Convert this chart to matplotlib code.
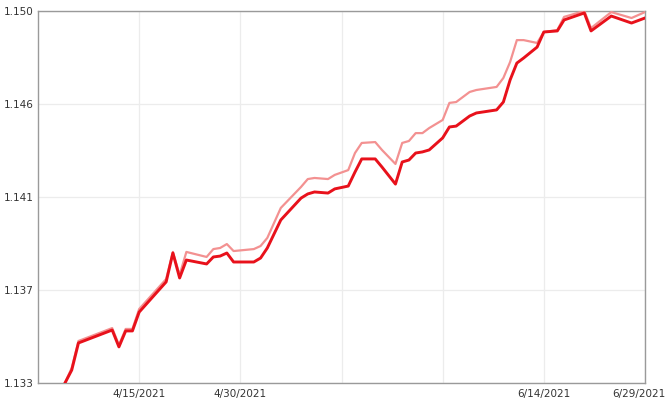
import matplotlib
matplotlib.use("Agg")
import matplotlib.pyplot as plt
import matplotlib.dates as mdates
from matplotlib.transforms import ScaledTranslation
import pandas as pd

# dates of the line vertices (both series share them)
dates = ["2021-04-04", "2021-04-05", "2021-04-06", "2021-04-11", "2021-04-12",
         "2021-04-13", "2021-04-14", "2021-04-15", "2021-04-19", "2021-04-20",
         "2021-04-21", "2021-04-22", "2021-04-25", "2021-04-26", "2021-04-27",
         "2021-04-28", "2021-04-29", "2021-05-02", "2021-05-03", "2021-05-04",
         "2021-05-06", "2021-05-09", "2021-05-10", "2021-05-11", "2021-05-13",
         "2021-05-14", "2021-05-16", "2021-05-17", "2021-05-18", "2021-05-20",
         "2021-05-21", "2021-05-23", "2021-05-24", "2021-05-25", "2021-05-26",
         "2021-05-27", "2021-05-28", "2021-05-30", "2021-05-31", "2021-06-01",
         "2021-06-03", "2021-06-04", "2021-06-07", "2021-06-08", "2021-06-09",
         "2021-06-10", "2021-06-11", "2021-06-13", "2021-06-14", "2021-06-16",
         "2021-06-17", "2021-06-20", "2021-06-21", "2021-06-24", "2021-06-27",
         "2021-06-29"]

dark = [1.13300, 1.13359, 1.13483, 1.13542, 1.13465, 1.13538, 1.13538, 1.13624,
        1.13762, 1.13894, 1.13780, 1.13862, 1.13844, 1.13876, 1.13880, 1.13894,
        1.13853, 1.13853, 1.13871, 1.13917, 1.14045, 1.14145, 1.14164, 1.14173,
        1.14168, 1.14187, 1.14200, 1.14264, 1.14324, 1.14324, 1.14287, 1.14209,
        1.14310, 1.14319, 1.14351, 1.14356, 1.14365, 1.14420, 1.14470, 1.14474,
        1.14520, 1.14534, 1.14548, 1.14584, 1.14685, 1.14762, 1.14785, 1.14835,
        1.14904, 1.14909, 1.14959, 1.14991, 1.14909, 1.14977, 1.14945, 1.14968]

light = [1.13300, 1.13369, 1.13492, 1.13551, 1.13474, 1.13547, 1.13547, 1.13638,
         1.13775, 1.13899, 1.13794, 1.13899, 1.13876, 1.13912, 1.13917, 1.13935,
         1.13903, 1.13912, 1.13926, 1.13963, 1.14100, 1.14196, 1.14232, 1.14237,
         1.14232, 1.14251, 1.14273, 1.14351, 1.14397, 1.14401, 1.14365, 1.14301,
         1.14397, 1.14406, 1.14442, 1.14442, 1.14465, 1.14502, 1.14580, 1.14584,
         1.14630, 1.14639, 1.14653, 1.14694, 1.14767, 1.14867, 1.14867, 1.14854,
         1.14904, 1.14913, 1.14973, 1.15000, 1.14922, 1.14995, 1.14968, 1.14995]

x_ticks = ["2021-04-15", "2021-04-30", "2021-05-15", "2021-05-30", "2021-06-14", "2021-06-29"]
x_labels = ["4/15/2021", "4/30/2021", "", "", "6/14/2021", "6/29/2021"]
y_ticks = [1.133, 1.13725, 1.1415, 1.14575, 1.150]
y_labels = ["1.133", "1.137", "1.141", "1.146", "1.150"]

plt.rcParams["font.family"] = "DejaVu Sans"

fig = plt.figure(figsize=(6.67, 4.04), dpi=100)
ax = fig.add_axes([38 / 667, 21 / 404, 607 / 667, 372 / 404])

x = pd.to_datetime(dates)
ax.plot(x, light, color="#f39191", lw=1.6, solid_joinstyle="round", zorder=3)
ax.plot(x, dark, color="#e8111b", lw=2.1, solid_joinstyle="round", zorder=4)

ax.set_xlim(pd.Timestamp("2021-03-31"), pd.Timestamp("2021-06-29"))
ax.set_ylim(1.133, 1.150)

ax.set_xticks(pd.to_datetime(x_ticks))
ax.set_xticklabels(x_labels)
ax.set_yticks(y_ticks)
ax.set_yticklabels(y_labels)

ax.grid(True, color="#ececec", lw=0.9)
ax.set_axisbelow(True)
ax.tick_params(length=0, labelsize=7.5, colors="#333333", pad=4)
ax.tick_params(axis="y", pad=3)
for s in ax.spines.values():
    s.set_color("#9a9a9a")
    s.set_linewidth(1.0)

# last date label is nudged left so it stays inside the picture
lab = ax.get_xticklabels()[-1]
lab.set_transform(lab.get_transform() + ScaledTranslation(-6 / 100, 0, fig.dpi_scale_trans))

fig.savefig("out.png", dpi=100)
